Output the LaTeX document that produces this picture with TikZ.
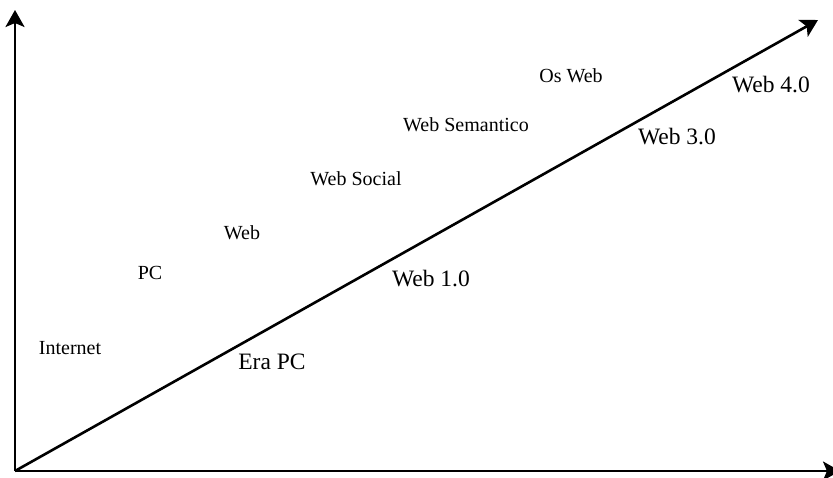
\documentclass[tikz,border=0pt]{standalone}
\usepackage{fontspec}
\setmainfont{Liberation Serif}
\usetikzlibrary{arrows.meta}
\begin{document}
\begin{tikzpicture}[x=1pt,y=-1pt,
  axis/.style={line width=2.6pt,-{Stealth[length=17pt,width=19pt,inset=4pt]}},
  small/.style={anchor=base,inner sep=0pt,font=\fontsize{20}{24}\selectfont},
  big/.style={anchor=base,inner sep=0pt,font=\fontsize{23.5}{28}\selectfont}]
\useasboundingbox (0,0) rectangle (833,478);
\coordinate (o) at (15,471);
\coordinate (ytop) at (15,10);
\coordinate (xend) at (840,471);
\coordinate (dend) at (818,20);
\draw[axis] (o) -- (ytop);
\draw[axis] (o) -- (xend);
\draw[axis] (o) -- (dend);
\node[small] (internet) at (70,355) {Internet};
\node[small] (pc) at (150,280) {PC};
\node[small] (web) at (242,240) {Web};
\node[small] (websocial) at (356,186) {Web Social};
\node[small] (websem) at (466,132) {Web Semantico};
\node[small] (osweb) at (571,83) {Os Web};
\node[big] (erapc) at (272,370) {Era PC};
\node[big] (web1) at (431,287) {Web 1.0};
\node[big] (web3) at (677,145) {Web 3.0};
\node[big] (web4) at (771,93) {Web 4.0};
\end{tikzpicture}
\end{document}
